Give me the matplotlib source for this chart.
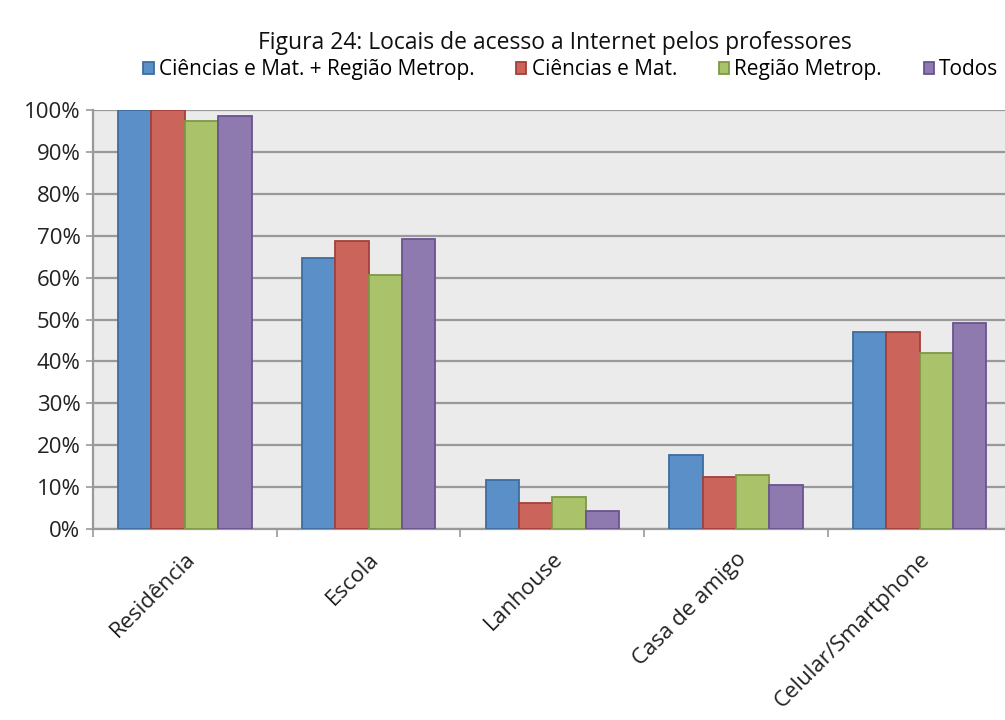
import numpy as np
import matplotlib.pyplot as plt
from matplotlib.ticker import FixedLocator

plt.rcParams['font.family'] = ['Open Sans', 'DejaVu Sans']

# Access locations and share of teachers per group (%)
locais = ['Residência', 'Escola', 'Lanhouse', 'Casa de amigo', 'Celular/Smartphone']
grupos = ['Ciências e Mat. + Região Metrop.', 'Ciências e Mat.', 'Região Metrop.', 'Todos']
cm_rm = [100.0, 64.7, 11.7, 17.7, 46.9]
cm = [100.0, 68.8, 6.3, 12.3, 46.9]
rm = [97.3, 60.6, 7.7, 13.0, 41.9]
todos = [98.6, 69.1, 4.4, 10.5, 49.2]

series = [cm_rm, cm, rm, todos]
cores = ['#5B8FC7', '#CB645A', '#AAC26A', '#8F7AAF']
bordas = ['#3E6D9F', '#A2403A', '#7E9946', '#6A5490']

fig = plt.figure(figsize=(10.05, 7.2), dpi=100)
ax = fig.add_axes([0.0925, 0.2653, 0.914, 0.5819])
ax.set_facecolor('#EBEBEB')

x = np.arange(len(locais))
w = 0.1815
for i, (vals, c, e, g) in enumerate(zip(series, cores, bordas, grupos)):
    ax.bar(x + (i - 1.5) * w, vals, w, color=c, edgecolor=e, linewidth=1.3,
           label=g, zorder=3)

ax.set_xlim(-0.5, len(locais) - 0.5)
ax.set_ylim(0, 100)
ax.set_yticks(np.arange(0, 101, 10))
ax.set_yticklabels([f'{v}%' for v in range(0, 101, 10)], fontsize=16, color='#222222')
ax.yaxis.grid(True, color='#999999', linewidth=1.6, zorder=1)
ax.tick_params(axis='y', length=5, width=1.2, color='#999999', pad=4)

ax.set_xticks(x)
ax.set_xticklabels(locais, rotation=45, ha='right', va='top', rotation_mode='anchor',
                   fontsize=16, color='#222222')
ax.xaxis.set_minor_locator(FixedLocator(np.arange(-0.5, len(locais), 1.0)))
ax.tick_params(axis='x', which='major', length=0, pad=14)
ax.tick_params(axis='x', which='minor', length=6, width=1.2, color='#999999')

for s in ['top', 'right']:
    ax.spines[s].set_visible(False)
for s in ['left', 'bottom']:
    ax.spines[s].set_color('#999999')
    ax.spines[s].set_linewidth(1.6)

fig.text(0.552, 0.94, 'Figura 24: Locais de acesso a Internet pelos professores',
         ha='center', va='center', fontsize=16.5, color='#111111')
fig.legend(loc='center', bbox_to_anchor=(0.568, 0.903), ncol=4, frameon=False,
           fontsize=15, handlelength=0.5, handleheight=0.5, handletextpad=0.25,
           columnspacing=2.0, borderaxespad=0, borderpad=0)

fig.savefig('out.png', dpi=100)
